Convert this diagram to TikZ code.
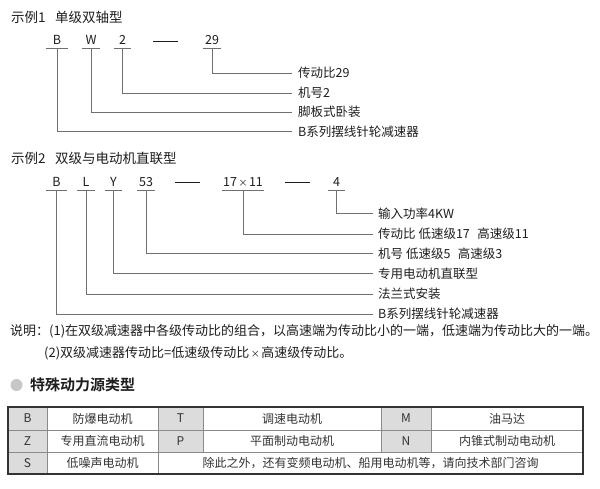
\documentclass[tikz,border=0pt]{standalone}
\usepackage{fontspec}
\setmainfont{Noto Sans CJK SC}
\newfontfamily\cjkbold{Noto Sans CJK SC Bold}
\definecolor{linegray}{HTML}{707070}
\definecolor{txt}{HTML}{1E1E1E}
\definecolor{cellgray}{HTML}{DCDCDC}
\definecolor{gridgray}{HTML}{8A8A8A}
\newcommand{\smalltimes}{{\fontsize{9}{10}\selectfont\,×\,}}
\begin{document}
\begin{tikzpicture}[x=1pt,y=-1pt,
  every node/.style={text=txt},
  code/.style={anchor=south, inner sep=0pt, text height=9pt, text depth=3pt, font=\fontsize{12.5}{14}\selectfont},
  lab/.style={anchor=west, inner sep=0pt, font=\fontsize{12.5}{14}\selectfont},
  titlebox/.style={anchor=west, inner sep=0pt, font=\fontsize{13.5}{15}\selectfont},
  note/.style={anchor=west, inner sep=0pt, font=\fontsize{13}{15}\selectfont},
  uline/.style={draw=linegray, line width=0.8pt},
  conn/.style={draw=linegray, line width=0.8pt},
  dashbar/.style={inner sep=0pt, minimum width=25pt, minimum height=0.9pt, fill=txt},
  cellbox/.style={inner sep=0pt, font=\fontsize{12}{14}\selectfont, text=black!80},
]
\useasboundingbox[fill=white] (0,0) rectangle (600,488);

% ---------- Example 1 ----------
\node[titlebox] (h1) at (11,17) {示例1\hspace{0.7em}单级双轴型};
\node[code, minimum width=22pt] (a1) at (57,48) {B};
\node[code, minimum width=18pt] (a2) at (91,48) {W};
\node[code, minimum width=17pt] (a3) at (122.5,48) {2};
\node[dashbar] (ad) at (165.5,41) {};
\node[code, minimum width=18pt] (a4) at (212,48) {29};
\foreach \n in {a1,a2,a3,a4} \draw[uline] (\n.south west) -- (\n.south east);

\node[lab] (la4) at (298,73) {传动比29};
\node[lab] (la3) at (298,93) {机号2};
\node[lab] (la2) at (298,112) {脚板式卧装};
\node[lab] (la1) at (298,131.5) {B系列摆线针轮减速器};
\draw[conn] (a4.south) |- ([xshift=-6pt]la4.west);
\draw[conn] (a3.south) |- ([xshift=-6pt]la3.west);
\draw[conn] (a2.south) |- ([xshift=-6pt]la2.west);
\draw[conn] (a1.south) |- ([xshift=-6pt]la1.west);

% ---------- Example 2 ----------
\node[titlebox] (h2) at (11,158) {示例2\hspace{0.7em}双级与电动机直联型};
\node[code, minimum width=21pt] (b1) at (56.5,190) {B};
\node[code, minimum width=18pt] (b2) at (86,190) {L};
\node[code, minimum width=17pt] (b3) at (113.5,190) {Y};
\node[code, minimum width=18pt] (b4) at (146,190) {53};
\node[dashbar] (bd1) at (187.5,182) {};
\node[code, minimum width=42pt] (b5) at (243,190) {17\smalltimes 11};
\node[dashbar] (bd2) at (297.5,182) {};
\node[code, minimum width=17pt] (b6) at (336.5,190) {4};
\foreach \n in {b1,b2,b3,b4,b5,b6} \draw[uline] (\n.south west) -- (\n.south east);

\node[lab] (lb6) at (378,213.5) {输入功率4KW};
\node[lab] (lb5) at (378,234) {传动比 低速级17\hspace{0.6em}高速级11};
\node[lab] (lb4) at (378,253.5) {机号 低速级5\hspace{0.6em}高速级3};
\node[lab] (lb3) at (378,273.5) {专用电动机直联型};
\node[lab] (lb2) at (378,294) {法兰式安装};
\node[lab] (lb1) at (378,314) {B系列摆线针轮减速器};
\draw[conn] (b6.south) |- ([xshift=-5pt]lb6.west);
\draw[conn] (b5.south) |- ([xshift=-5pt]lb5.west);
\draw[conn] (b4.south) |- ([xshift=-5pt]lb4.west);
\draw[conn] (b3.south) |- ([xshift=-5pt]lb3.west);
\draw[conn] (b2.south) |- ([xshift=-5pt]lb2.west);
\draw[conn] (b1.south) |- ([xshift=-5pt]lb1.west);

% ---------- Notes ----------
\node[note] (n1) at (10,331) {说明：(1)在双级减速器中各级传动比的组合，以高速端为传动比小的一端，低速端为传动比大的一端。};
\node[note] (n2) at (44,353) {(2)双级减速器传动比=低速级传动比\smalltimes 高速级传动比。};

% ---------- Section title ----------
\fill[black!22] (16.5,385) circle (6pt);
\node[anchor=west, inner sep=0pt, font=\cjkbold\fontsize{15}{17}\selectfont] (sec) at (30,384.5) {特殊动力源类型};

% ---------- Table ----------
\fill[cellgray] (8,407) rectangle (47,474);
\fill[cellgray] (158,407) rectangle (203,452);
\fill[cellgray] (381,407) rectangle (431,452);
\draw[gridgray, line width=0.7pt] (8,430) -- (583,430);
\draw[gridgray, line width=0.7pt] (8,452) -- (583,452);
\draw[gridgray, line width=0.7pt] (47,407) -- (47,474);
\draw[gridgray, line width=0.7pt] (158,407) -- (158,474);
\draw[gridgray, line width=0.7pt] (203,407) -- (203,452);
\draw[gridgray, line width=0.7pt] (381,407) -- (381,452);
\draw[gridgray, line width=0.7pt] (431,407) -- (431,452);
\draw[black!80, line width=1.4pt] (8,407) rectangle (583,474);

\node[cellbox] (c11) at (27.5,418.5) {B};
\node[cellbox] (c12) at (102.5,418.5) {防爆电动机};
\node[cellbox] (c13) at (180.5,418.5) {T};
\node[cellbox] (c14) at (292,418.5) {调速电动机};
\node[cellbox] (c15) at (406,418.5) {M};
\node[cellbox] (c16) at (507,418.5) {油马达};
\node[cellbox] (c21) at (27.5,441) {Z};
\node[cellbox] (c22) at (102.5,441) {专用直流电动机};
\node[cellbox] (c23) at (180.5,441) {P};
\node[cellbox] (c24) at (292,441) {平面制动电动机};
\node[cellbox] (c25) at (406,441) {N};
\node[cellbox] (c26) at (507,441) {内锥式制动电动机};
\node[cellbox] (c31) at (27.5,463) {S};
\node[cellbox] (c32) at (102.5,463) {低噪声电动机};
\node[cellbox] (c33) at (370.5,463) {除此之外，还有变频电动机、船用电动机等，请向技术部门咨询};
\end{tikzpicture}
\end{document}
